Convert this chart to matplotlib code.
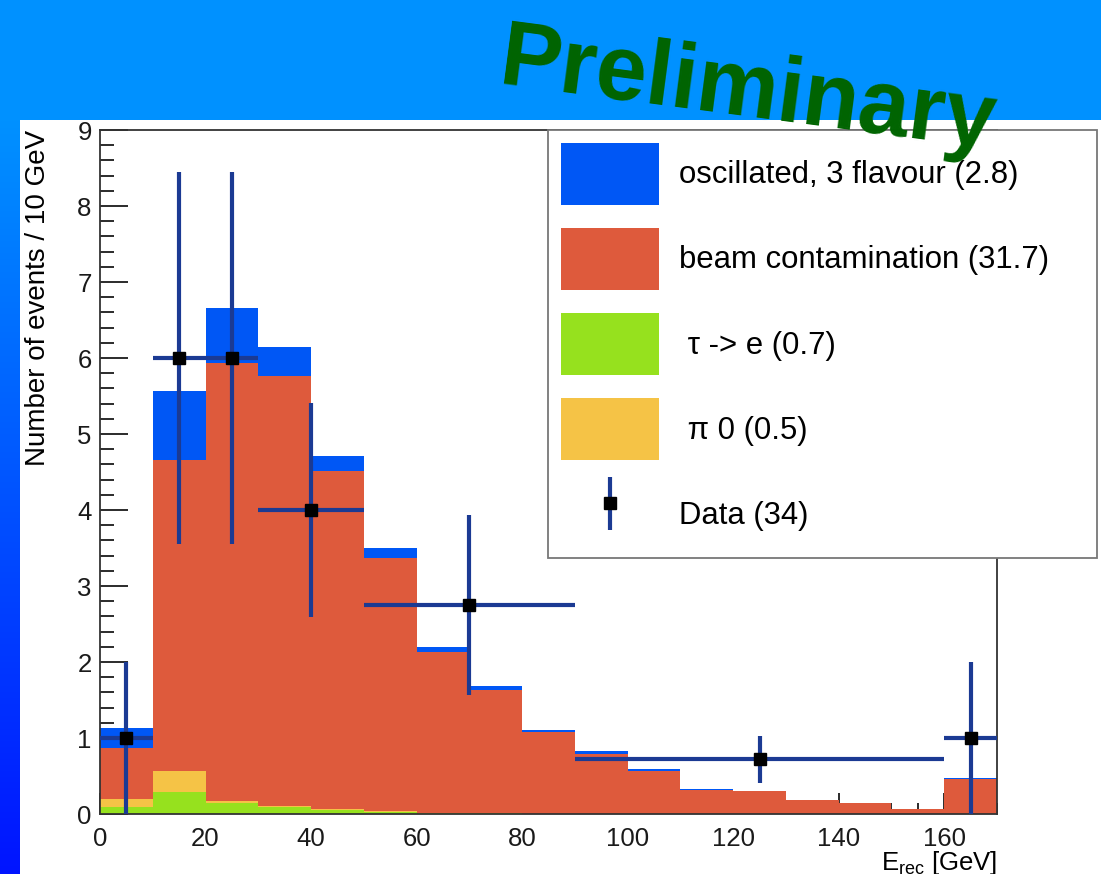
import numpy as np
import matplotlib
matplotlib.use("Agg")
import matplotlib.pyplot as plt
from matplotlib.patches import Rectangle
from matplotlib.legend_handler import HandlerErrorbar
from matplotlib.ticker import MultipleLocator

plt.rcParams['font.family'] = ['Liberation Sans', 'DejaVu Sans']
plt.rcParams['mathtext.default'] = 'regular'

# Reconstructed-energy binning (GeV)
bin_edges = np.arange(0, 180, 10)

# Expected events per 10 GeV, by component (stacked bottom to top)
tau_to_e = [0.09, 0.29, 0.14, 0.09, 0.05, 0.03, 0.01, 0.01, 0.0, 0.0,
            0.0, 0.0, 0.0, 0.0, 0.0, 0.0, 0.0]
pi0 = [0.11, 0.28, 0.03, 0.02, 0.01, 0.01, 0.0, 0.0, 0.0, 0.0,
       0.0, 0.0, 0.0, 0.0, 0.0, 0.0, 0.0]
beam_contamination = [0.67, 4.09, 5.76, 5.65, 4.45, 3.33, 2.12, 1.62, 1.08, 0.79,
                      0.57, 0.31, 0.30, 0.19, 0.15, 0.07, 0.46]
oscillated = [0.26, 0.91, 0.73, 0.39, 0.20, 0.13, 0.07, 0.05, 0.03, 0.04,
              0.02, 0.02, 0.0, 0.0, 0.0, 0.0, 0.02]

# Observed data in variable-width bins, normalised per 10 GeV
data_lo_edge = [0, 10, 20, 30, 50, 90, 160]
data_hi_edge = [10, 20, 30, 50, 90, 160, 170]
data_y = [1.0, 6.0, 6.0, 4.0, 2.75, 0.72, 1.0]
data_err = [1.0, 2.45, 2.45, 1.41, 1.18, 0.31, 1.0]

labels = ["oscillated, 3 flavour (2.8)", "beam contamination (31.7)",
          " \u03c4 -> e (0.7)", " \u03c0 0 (0.5)", "Data (34)"]

C_OSC = "#0057F5"
C_BEAM = "#DE5A3C"
C_TAU = "#96E11E"
C_PI0 = "#F5C346"
C_DATA = "#1B3A93"

W, H = 1101, 874
fig = plt.figure(figsize=(W / 100, H / 100), dpi=100, facecolor="white")

# slide background: header band and gradient side strip
fig.add_artist(Rectangle((0, 1 - 120 / H), 1, 120 / H, transform=fig.transFigure,
                         facecolor="#0091FF", edgecolor="none", zorder=-10))
strip = fig.add_axes([0, 0, 20 / W, 1 - 120 / H], zorder=-5)
grad = np.linspace(0, 1, 256)[:, None]
top_c = np.array([0, 145, 255]) / 255
bot_c = np.array([0, 20, 255]) / 255
img = (top_c[None, None, :] * (1 - grad[..., None]) + bot_c[None, None, :] * grad[..., None])
strip.imshow(img, aspect="auto", extent=[0, 1, 0, 1])
strip.axis("off")

ax = fig.add_axes([100 / W, (H - 814) / H, (997 - 100) / W, (814 - 130) / H])
ax.set_axisbelow(True)

left = bin_edges[:-1]
b1 = np.array(tau_to_e)
b2 = b1 + np.array(pi0)
b3 = b2 + np.array(beam_contamination)
h_tau = ax.bar(left, tau_to_e, width=10, align="edge", color=C_TAU, linewidth=0)
h_pi0 = ax.bar(left, pi0, width=10, align="edge", bottom=b1, color=C_PI0, linewidth=0)
h_beam = ax.bar(left, beam_contamination, width=10, align="edge", bottom=b2,
                color=C_BEAM, linewidth=0)
h_osc = ax.bar(left, oscillated, width=10, align="edge", bottom=b3, color=C_OSC, linewidth=0)

lo = np.array(data_lo_edge, dtype=float)
hi = np.array(data_hi_edge, dtype=float)
xc = (lo + hi) / 2
h_data = ax.errorbar(xc, data_y, xerr=[xc - lo, hi - xc], yerr=data_err, fmt="s",
                     color="black", ms=9, ecolor=C_DATA, elinewidth=3, capsize=0, zorder=5)

ax.set_xlim(0, 170)
ax.set_ylim(0, 9)
ax.xaxis.set_major_locator(MultipleLocator(20))
ax.xaxis.set_minor_locator(MultipleLocator(5))
ax.yaxis.set_major_locator(MultipleLocator(1))
ax.yaxis.set_minor_locator(MultipleLocator(0.2))
ax.tick_params(axis="y", which="major", direction="in", length=20, width=1.3,
               labelsize=18.5, pad=6, colors="#1a1a1a")
ax.tick_params(axis="y", which="minor", direction="in", length=10, width=1.3, colors="#1a1a1a")
ax.tick_params(axis="x", which="major", direction="in", length=15, width=1.3,
               labelsize=18.5, pad=9, colors="#1a1a1a")
ax.tick_params(axis="x", which="minor", direction="in", length=8, width=1.3, colors="#1a1a1a")
for s in ax.spines.values():
    s.set_linewidth(1.3)
    s.set_color("#333333")

fig.text(38 / W, 1 - 130 / H, "Number of events / 10 GeV", rotation=90,
         ha="center", va="top", fontsize=20)
fig.text(997 / W, 1 - 849 / H, "E$_{rec}$ [GeV]", ha="right", va="top", fontsize=18.5)

leg = ax.legend([h_osc, h_beam, h_tau, h_pi0, h_data], labels,
                loc="upper left",
                bbox_to_anchor=(548 / W, 1 - 130 / H, (1097 - 548) / W, 0),
                bbox_transform=fig.transFigure, mode="expand",
                fontsize=22.4, handlelength=3.15, handleheight=2.69,
                handletextpad=0.64, labelspacing=0.74, borderpad=0.42,
                borderaxespad=0, fancybox=False, framealpha=1,
                edgecolor="#777777",
                handler_map={type(h_data): HandlerErrorbar(xerr_size=0, yerr_size=0.85)})
leg.get_frame().set_linewidth(1.3)
leg.set_zorder(10)

fig.text(497 / W, 1 - 84 / H, "Preliminary", rotation=-7.5, rotation_mode="anchor",
         ha="left", va="baseline", fontsize=66, fontweight="bold", color="#006400",
         zorder=20)

fig.savefig("out.png", dpi=100, facecolor=fig.get_facecolor())
